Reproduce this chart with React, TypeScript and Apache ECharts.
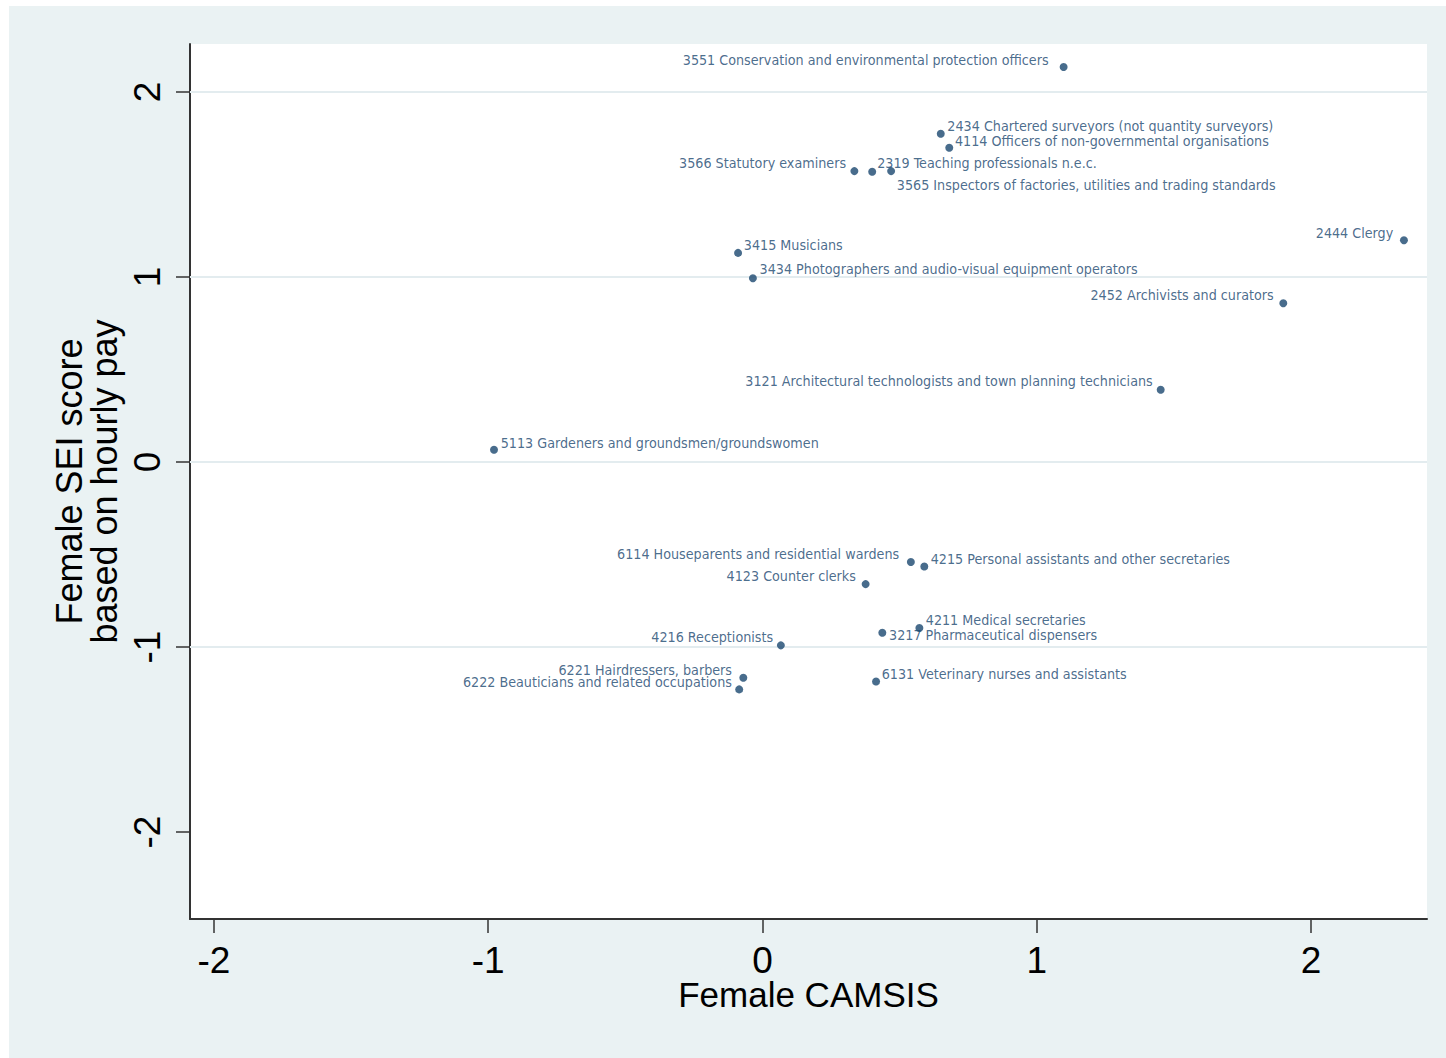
import React, { useEffect, useRef } from "react";
import * as echarts from "echarts";

// ---- data ----
const occupations = [
  "3551 Conservation and environmental protection officers",
  "2434 Chartered surveyors (not quantity surveyors)",
  "4114 Officers of non-governmental organisations",
  "3566 Statutory examiners",
  "2319 Teaching professionals n.e.c.",
  "3565 Inspectors of factories, utilities and trading standards",
  "2444 Clergy",
  "3415 Musicians",
  "3434 Photographers and audio-visual equipment operators",
  "2452 Archivists and curators",
  "3121 Architectural technologists and town planning technicians",
  "5113 Gardeners and groundsmen/groundswomen",
  "6114 Houseparents and residential wardens",
  "4215 Personal assistants and other secretaries",
  "4123 Counter clerks",
  "4211 Medical secretaries",
  "3217 Pharmaceutical dispensers",
  "4216 Receptionists",
  "6221 Hairdressers, barbers",
  "6222 Beauticians and related occupations",
  "6131 Veterinary nurses and assistants",
];
const femaleCamsis = [
  1.098, 0.65, 0.681, 0.335, 0.4, 0.469, 2.339, -0.089, -0.035, 1.899, 1.452,
  -0.979, 0.541, 0.59, 0.376, 0.572, 0.437, 0.067, -0.07, -0.085, 0.414,
];
const femaleSei = [
  2.135, 1.774, 1.698, 1.572, 1.569, 1.572, 1.198, 1.13, 0.993, 0.858, 0.39,
  0.066, -0.541, -0.565, -0.66, -0.897, -0.923, -0.991, -1.166, -1.229, -1.186,
];
const xTickValues = [-2, -1, 0, 1, 2];
const yTickValues = [-2, -1, 0, 1, 2];
const yGridValues = [2, 1, 0, -1];

// ---- label placement (style only): side, gap from marker centre, vertical shift ----
const labelSide = [
  "left", "right", "right", "left", "right", "right", "left", "right", "right", "left", "left",
  "right", "left", "right", "left", "right", "right", "left", "left", "left", "right",
];
const labelGap = [15, 6.6, 5.7, 8.3, 5, 5.7, 10.7, 5.7, 6.7, 9.6, 8, 6.7, 11.7, 6.4, 9.7, 6.4, 6.7, 7.7, 11.3, 7.3, 5.7];
const labelShift = [-7.3, -7.3, -7.3, -7.7, -8.3, 14.3, -7.5, -7.5, -9, -8, -8.7, -7, -8, -7.7, -8.3, -7.8, 2, -8.2, -8, -7.7, -7.7];

const NAVY = "#1a476f";
const LABEL_FONT = '"DejaVu Sans Condensed", "Liberation Sans", Arial, sans-serif';
const AXIS_FONT = '"Liberation Sans", Arial, Helvetica, sans-serif';
const SYMBOL = 8;

export default function App() {
  const ref = useRef<HTMLDivElement>(null);

  useEffect(() => {
    if (!ref.current) return;
    const chart = echarts.init(ref.current, undefined, { renderer: "svg" });
    const half = SYMBOL / 2;

    const points = occupations.map((name, i) => {
      const left = labelSide[i] === "left";
      return {
        name,
        value: [femaleCamsis[i], femaleSei[i]],
        label: {
          position: [half + (left ? -labelGap[i] : labelGap[i]), half + labelShift[i]],
          align: left ? "right" : "left",
          verticalAlign: "middle",
        },
      };
    });

    const axisLineStyle = { color: "#333333", width: 2 };

    chart.setOption({
      animation: false,
      backgroundColor: "transparent",
      grid: {
        left: 181,
        top: 38,
        right: 19,
        bottom: 139,
        show: true,
        backgroundColor: "#ffffff",
        borderWidth: 0,
        containLabel: false,
        outerBoundsMode: "none",
      },
      xAxis: {
        type: "value",
        min: -2.0875,
        max: 2.423,
        axisLine: { show: true, onZero: false, lineStyle: axisLineStyle },
        axisTick: { show: true, length: 14, customValues: xTickValues, lineStyle: { color: "#333333", width: 1.5 } },
        axisLabel: {
          customValues: xTickValues,
          fontSize: 37,
          lineHeight: 30,
          color: "#000000",
          fontFamily: AXIS_FONT,
          margin: 26,
        },
        splitLine: { show: false },
        name: "Female CAMSIS",
        nameLocation: "middle",
        nameGap: 60,
        nameMoveOverlap: false,
        nameTextStyle: { fontSize: 35, lineHeight: 30, color: "#000000", fontFamily: AXIS_FONT },
      },
      yAxis: {
        type: "value",
        min: -2.47,
        max: 2.259,
        axisLine: { show: true, onZero: false, lineStyle: axisLineStyle },
        axisTick: { show: true, length: 14, customValues: yTickValues, lineStyle: { color: "#333333", width: 1.5 } },
        axisLabel: {
          customValues: yTickValues,
          rotate: 90,
          fontSize: 37,
          color: "#000000",
          fontFamily: AXIS_FONT,
          margin: 24,
        },
        splitLine: { show: false },
        name: "Female SEI score\nbased on hourly pay",
        nameLocation: "middle",
        nameGap: 68,
        nameMoveOverlap: false,
        nameTextStyle: { fontSize: 36, lineHeight: 35, color: "#000000", fontFamily: AXIS_FONT, align: "center" },
      },
      series: [
        {
          type: "scatter",
          symbol: "circle",
          symbolSize: SYMBOL,
          z: 3,
          itemStyle: { color: NAVY },
          label: {
            show: true,
            formatter: "{b}",
            color: NAVY,
            fontSize: 14.2,
            fontFamily: LABEL_FONT,
          },
          data: points,
          markLine: {
            silent: true,
            symbol: "none",
            z: 1,
            label: { show: false },
            lineStyle: { color: "#E3ECEF", width: 2, type: "solid" },
            data: yGridValues.map((v) => ({ yAxis: v })),
          },
        },
      ],
    });

    return () => chart.dispose();
  }, []);

  return (
    <div style={{ position: "absolute", left: 0, top: 0, width: 1446, height: 1058, background: "#ffffff" }}>
      <div
        ref={ref}
        style={{ position: "absolute", left: 9, top: 6, width: 1437, height: 1052, background: "#EAF2F3" }}
      />
    </div>
  );
}
